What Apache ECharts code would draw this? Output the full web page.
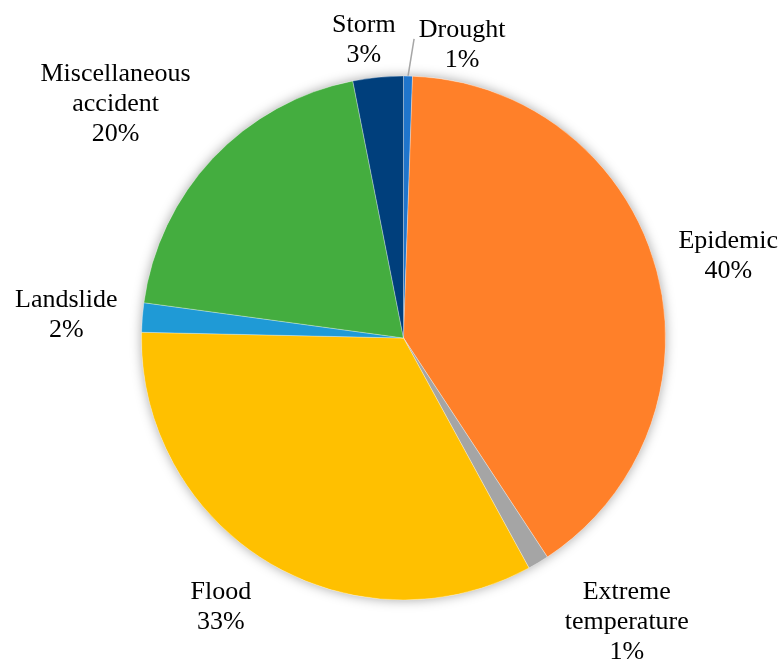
<!DOCTYPE html>
<html>
<head>
<meta charset="utf-8">
<script src="https://cdn.jsdelivr.net/npm/echarts@6/dist/echarts.min.js"></script>
<style>
  html, body { margin: 0; padding: 0; background: #fff; }
  #chart { width: 781px; height: 661px; }
</style>
</head>
<body>
<div id="chart"></div>
<script>
// Share of events by disaster type (percent), clockwise from 12 o'clock
const categories = ['Drought', 'Epidemic', 'Extreme temperature', 'Flood', 'Landslide', 'Miscellaneous accident', 'Storm'];
const shares = [0.55, 40.2, 1.3, 33.3, 1.8, 19.75, 3.1];
const sliceColors = ['#1F75CC', '#FF8029', '#A5A5A5', '#FFC000', '#1F9AD6', '#44AD3F', '#003F7C'];

// Label anchors as [angle from 12 o'clock in degrees, distance from centre in px]
const labelPolar = [[11.3, 299], [75.8, 335], [141.8, 361], [214.2, 325], [273.9, 338], [309.1, 371], [352.4, 300]];

const CX = 403.5, CY = 338, R = 262;
const polarToXY = (deg, d) => {
  const a = deg * Math.PI / 180;
  return [CX + d * Math.sin(a), CY - d * Math.cos(a)];
};

// Mid-angle of each slice, used for the drought leader line
const total = shares.reduce((s, v) => s + v, 0);
const midAngles = [];
let acc = 0;
shares.forEach(v => { midAngles.push((acc + v / 2) / total * 360); acc += v; });

const chart = echarts.init(document.getElementById('chart'), null, { renderer: 'canvas' });

chart.setOption({
  animation: false,
  backgroundColor: '#ffffff',
  series: [
    {
      // soft shadow disc behind the pie
      type: 'pie',
      silent: true,
      z: 1,
      center: [CX, CY],
      radius: R,
      label: { show: false },
      labelLine: { show: false },
      data: [{ value: 1, itemStyle: { color: '#ffffff', shadowBlur: 12, shadowColor: 'rgba(0,0,0,0.35)' } }]
    },
    {
      type: 'pie',
      z: 2,
      center: [CX, CY],
      radius: R,
      startAngle: 90,
      clockwise: true,
      avoidLabelOverlap: false,
      percentPrecision: 2,
      itemStyle: { borderColor: 'rgba(255,255,255,0.6)', borderWidth: 0.5 },
      label: {
        show: true,
        position: 'outside',
        fontFamily: 'Liberation Serif, Times New Roman, serif',
        fontSize: 26,
        lineHeight: 30,
        color: '#000',
        align: 'center',
        formatter: p => p.name.replace(' ', '\n') + '\n' + Math.round(p.percent) + '%'
      },
      labelLine: { show: false },
      labelLayout: p => {
        const [deg, d] = labelPolar[p.dataIndex];
        const [x, y] = polarToXY(deg, d);
        const out = { x: x, y: y, align: 'center', verticalAlign: 'middle' };
        if (p.dataIndex === 0) {
          const s = polarToXY(midAngles[0], R);
          const e = [x - 48, y - 6];
          out.labelLinePoints = [s, e, e];
        }
        return out;
      },
      data: categories.map((name, i) => {
        const item = { name: name, value: shares[i], itemStyle: { color: sliceColors[i] } };
        if (i === 0) {
          item.labelLine = { show: true, length: 10, length2: 0, lineStyle: { color: '#A6A6A6', width: 1.5 } };
        }
        return item;
      })
    }
  ]
});
</script>
</body>
</html>
